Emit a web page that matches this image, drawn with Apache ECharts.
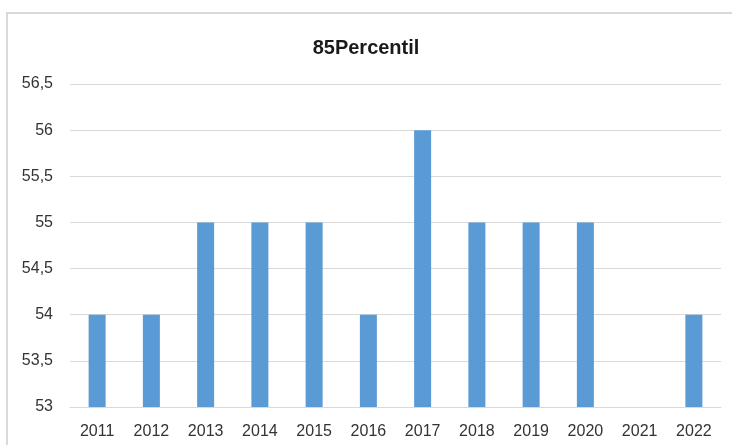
<!DOCTYPE html>
<html>
<head>
<meta charset="utf-8">
<script src="https://cdn.jsdelivr.net/npm/echarts@6/dist/echarts.min.js"></script>
<style>
  html, body { margin: 0; padding: 0; background: #fff; }
  #chart { width: 732px; height: 445px; }
</style>
</head>
<body>
<div id="chart"></div>
<script>
const years = ["2011", "2012", "2013", "2014", "2015", "2016", "2017", "2018", "2019", "2020", "2021", "2022"];
const percentil85 = [54, 54, 55, 55, 55, 54, 56, 55, 55, 55, null, 54];

const chart = echarts.init(document.getElementById("chart"));

const option = {
  animation: false,
  title: {
    text: "85Percentil",
    left: "center",
    top: 33,
    textStyle: {
      fontFamily: "Liberation Sans",
      fontWeight: "bold",
      fontSize: 20,
      color: "#1a1a1a",
    },
  },
  graphic: [
    {
      type: "rect",
      shape: { x: 7, y: 13, width: 760, height: 460 },
      style: { fill: "none", stroke: "#d9d9d9", lineWidth: 2 },
      silent: true,
    },
  ],
  grid: { left: 70, right: 11, top: 84, bottom: 38 },
  xAxis: {
    type: "category",
    data: years,
    axisTick: { show: false },
    axisLine: { lineStyle: { color: "#d9d9d9", width: 1 } },
    axisLabel: {
      color: "#333333",
      fontFamily: "Liberation Sans",
      fontSize: 16,
      margin: 17,
    },
  },
  yAxis: {
    type: "value",
    min: 53,
    max: 56.5,
    interval: 0.5,
    axisLine: { show: false },
    axisTick: { show: false },
    splitLine: { lineStyle: { color: "#d9d9d9", width: 1 } },
    axisLabel: {
      color: "#333333",
      fontFamily: "Liberation Sans",
      fontSize: 16,
      margin: 17,
      formatter: (v) => String(v).replace(".", ","),
    },
  },
  series: [
    {
      type: "bar",
      name: "85Percentil",
      data: percentil85,
      barWidth: 17,
      itemStyle: { color: "#5b9bd5" },
    },
  ],
};

chart.setOption(option);
</script>
</body>
</html>
